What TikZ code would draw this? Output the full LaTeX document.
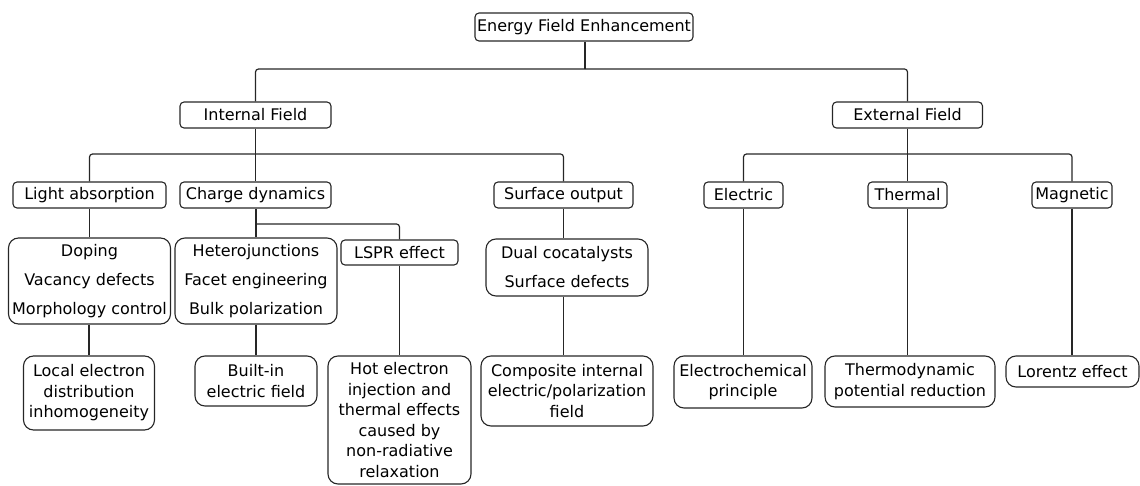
\documentclass[tikz,border=0pt]{standalone}
\usepackage{fontspec}
\setmainfont{DejaVu Sans}
\begin{document}
\begin{tikzpicture}[x=1pt,y=-1pt,
  box/.style={draw=black!85, line width=1.1pt, rounded corners=4pt, inner sep=0pt,
    align=center, text=black, font=\fontsize{16}{20.5}\selectfont},
  bigbox/.style={box, rounded corners=10pt},
  listbox/.style={bigbox, font=\fontsize{16}{29}\selectfont},
  conn/.style={draw=black!85, line width=1.2pt, rounded corners=3pt}]
\useasboundingbox (0,0) rectangle (1140,486);

% level 0/1
\node[box, minimum width=218pt, minimum height=28pt] (root) at (584,27) {Energy Field Enhancement};
\node[box, minimum width=151pt, minimum height=26pt] (int) at (255.5,115) {Internal Field};
\node[box, minimum width=150pt, minimum height=26pt] (ext) at (907.5,115) {External Field};

% level 2
\node[box, minimum width=153pt, minimum height=26pt] (light) at (89.5,195) {Light absorption};
\node[box, minimum width=151pt, minimum height=26pt] (charge) at (255.5,195) {Charge dynamics};
\node[box, minimum width=139pt, minimum height=26pt] (surf) at (563.5,195) {Surface output};
\node[box, minimum width=79pt, minimum height=26pt] (elec) at (743.5,195) {Electric};
\node[box, minimum width=79pt, minimum height=26pt] (therm) at (907.5,195) {Thermal};
\node[box, minimum width=80pt, minimum height=26pt] (mag) at (1072,195) {Magnetic};

% level 3
\node[listbox, minimum width=162pt, minimum height=86pt] (doping) at (89.5,281) {Doping\\Vacancy defects\\Morphology control};
\node[listbox, minimum width=162pt, minimum height=86pt] (het) at (256,281) {Heterojunctions\\Facet engineering\\Bulk polarization};
\node[box, minimum width=117pt, minimum height=25pt] (lspr) at (399.5,252.5) {LSPR effect};
\node[listbox, minimum width=162pt, minimum height=57pt] (dual) at (567,267.5) {Dual cocatalysts\\Surface defects};

% level 4
\node[bigbox, minimum width=131pt, minimum height=74pt] (local) at (89,393) {Local electron\\distribution\\inhomogeneity};
\node[bigbox, minimum width=122pt, minimum height=50pt] (built) at (256,381) {Built-in\\electric field};
\node[bigbox, minimum width=143pt, minimum height=128pt] (hot) at (399.5,420) {Hot electron\\injection and\\thermal effects\\caused by\\non-radiative\\relaxation};
\node[bigbox, minimum width=172pt, minimum height=70pt] (comp) at (567,391) {Composite internal\\electric/polarization\\field};
\node[bigbox, minimum width=138pt, minimum height=52pt] (electro) at (743,382) {Electrochemical\\principle};
\node[bigbox, minimum width=170pt, minimum height=51pt] (thermo) at (910,381.5) {Thermodynamic\\potential reduction};
\node[bigbox, minimum width=133pt, minimum height=31pt] (lorentz) at (1072.5,371.5) {Lorentz effect};

% bus coordinates
\coordinate (b0) at (585,69);
\coordinate (b1) at (255.5,154);
\coordinate (b2) at (907.5,154);
\coordinate (b3) at (256,224);

% connectors
\draw[conn] (root.south -| b0) -- (b0);
\draw[conn] (b0) -| (int.north);
\draw[conn] (b0) -| (ext.north);

\draw[conn] (int.south) -- (b1);
\draw[conn] (b1) -| (light.north);
\draw[conn] (b1) -| (surf.north);
\draw[conn] (b1) -- (charge.north);

\draw[conn] (ext.south) -- (b2);
\draw[conn] (b2) -| (elec.north);
\draw[conn] (b2) -| (mag.north);
\draw[conn] (b2) -- (therm.north);

\draw[conn] (light.south) -- (doping.north);
\draw[conn] (doping.south -| local.north) -- (local.north);

\draw[conn] (charge.south -| het.north) -- (het.north);
\draw[conn] (b3) -| (lspr.north);
\draw[conn] (het.south -| built.north) -- (built.north);
\draw[conn] (lspr.south) -- (hot.north);

\draw[conn] (surf.south) -- (surf.south |- dual.north);
\draw[conn] (dual.south -| surf.south) -- (comp.north -| surf.south);

\draw[conn] (elec.south) -- (elec.south |- electro.north);
\draw[conn] (therm.south) -- (therm.south |- thermo.north);
\draw[conn] (mag.south) -- (mag.south |- lorentz.north);
\end{tikzpicture}
\end{document}
